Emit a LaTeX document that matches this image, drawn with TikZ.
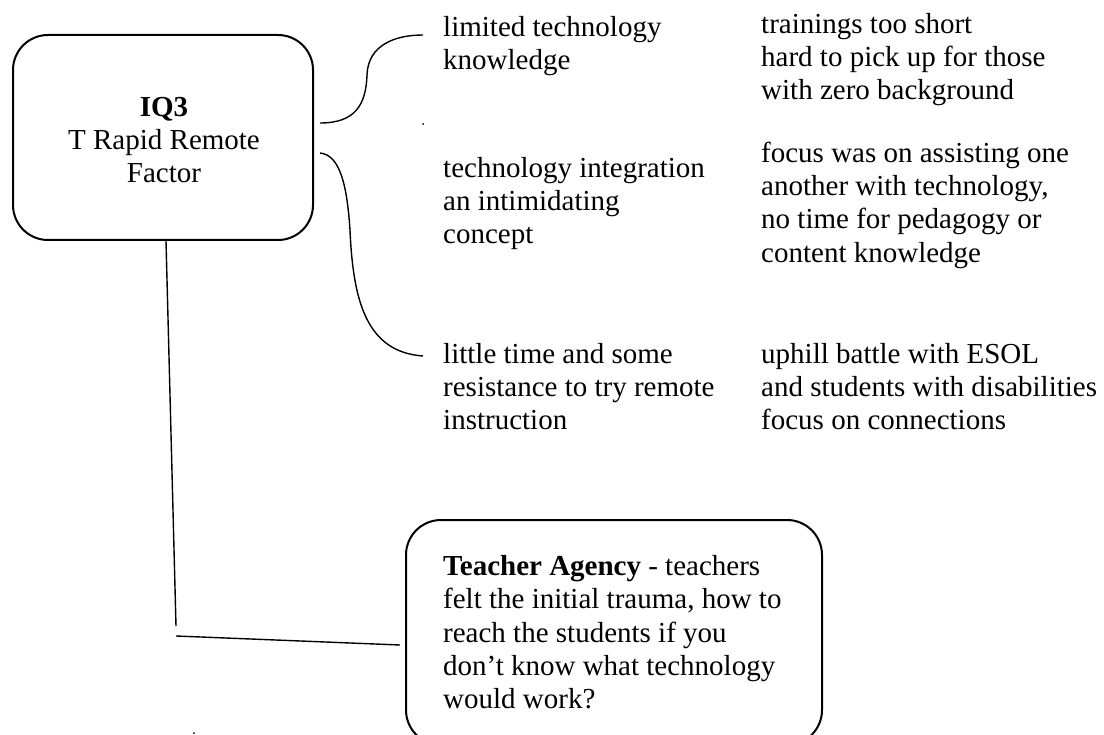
\documentclass[tikz,border=0pt]{standalone}
\usepackage{fontspec}
\setmainfont{Liberation Serif}
\newcommand\tf{\fontsize{29}{33.4}\selectfont}
\newcommand\st{\rule{0pt}{23pt}}
\begin{document}
\begin{tikzpicture}[x=1pt,y=-1pt,
  box/.style={draw, line width=2pt, rounded corners=35pt, inner sep=0pt},
  conn/.style={line width=1.4pt},
  txt/.style={anchor=north west, inner sep=0pt, align=left, font=\tf},
  speck/.style={fill=black, circle, inner sep=0pt, minimum size=2pt}]
\useasboundingbox (0,0) rectangle (1104,735);
% main box
\node[box, minimum width=300pt, minimum height=205pt] (main) at (163,137.5) {};
\node[txt, anchor=north, align=center] (maintxt) at (164,93) {\st\textbf{IQ3}\\T Rapid Remote\\Factor};
% first column
\node[txt] (c1a) at (443,13) {\st limited technology\\knowledge};
\node[txt] (c1b) at (443,154) {\st technology integration\\an intimidating\\concept};
\node[txt] (c1c) at (443,340) {\st little time and some\\resistance to try remote\\instruction};
% second column
\node[txt] (c2a) at (761,10) {\st trainings too short\\hard to pick up for those\\with zero background};
\node[txt] (c2b) at (761,139) {\st focus was on assisting one\\another with technology,\\no time for pedagogy or\\content knowledge};
\node[txt] (c2c) at (761,340) {\st uphill battle with ESOL\\and students with disabilities\\focus on connections};
% agency box
\node[box, minimum width=416pt, minimum height=225pt] (agency) at (614,632.5) {};
\node[txt] (agtxt) at (443,552) {\st\textbf{Teacher Agency} - teachers\\felt the initial trauma, how to\\reach the students if you\\don’t know what technology\\would work?};
% braces
\coordinate (b1s) at (320,123);
\coordinate (b1m) at (367,75);
\coordinate (b1e) at (423,35);
\draw[conn] (b1s) .. controls (355,123) and (366,105) .. (b1m)
  .. controls (368,45) and (395,35) .. (b1e);
\coordinate (b2s) at (320,153);
\coordinate (b2m) at (350,230);
\coordinate (b2e) at (423,356);
\draw[conn] (b2s) .. controls (340,155) and (347,185) .. (b2m)
  .. controls (353,300) and (366,352) .. (b2e);
% lines to agency box
\coordinate (v1) at (166,241);
\coordinate (v2) at (176,626);
\coordinate (h1) at (176,636);
\coordinate (h2) at (400,645);
\draw[conn] (v1) -- (v2);
\draw[conn] (h1) -- (h2);
% specks
\node[speck] (s1) at (423,124) {};
\node[speck] (s2) at (194,733) {};
\end{tikzpicture}
\end{document}
